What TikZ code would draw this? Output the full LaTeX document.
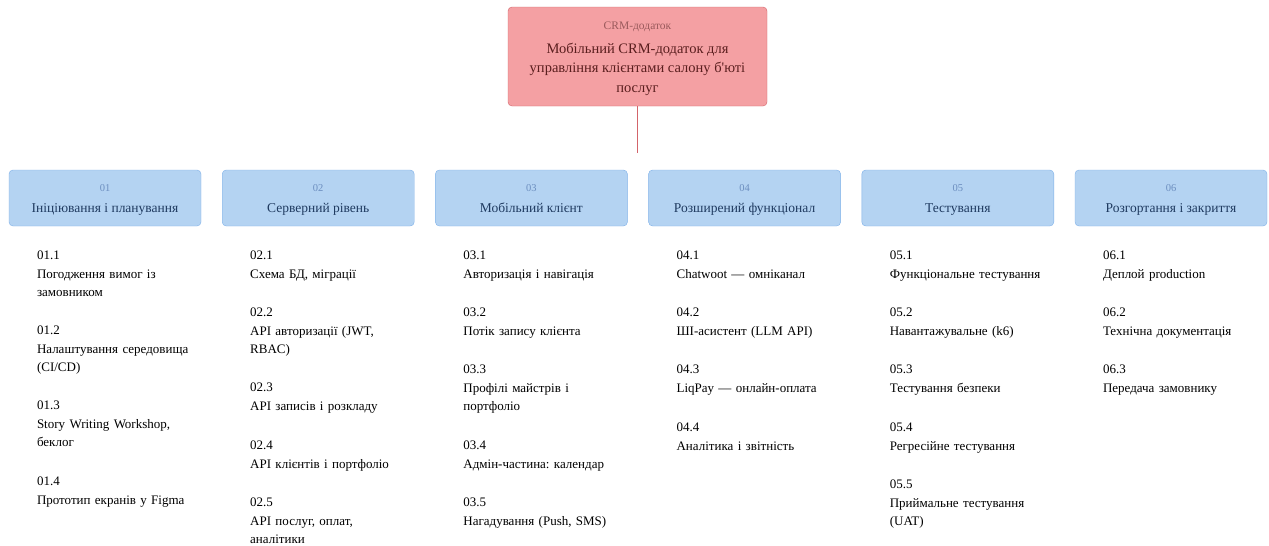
\documentclass[tikz,border=0pt]{standalone}
\usepackage{fontspec}
\setmainfont{Liberation Serif}
\usepackage{xcolor}
\usepackage{tikz}
\usetikzlibrary{positioning}
\definecolor{rootfill}{HTML}{F4A0A3}
\definecolor{rootdraw}{HTML}{D3646A}
\definecolor{roottext}{HTML}{5A1E1E}
\definecolor{rootsub}{HTML}{9A5A5C}
\definecolor{phasefill}{HTML}{B4D3F2}
\definecolor{phasedraw}{HTML}{7EB0E8}
\definecolor{phasetext}{HTML}{1F3A60}
\definecolor{phasenum}{HTML}{6C8EBF}
\newcommand{\itemfont}{\fontsize{13}{18}\selectfont\frenchspacing}
\tikzset{
  rootbox/.style={rectangle, rounded corners=4pt, draw=rootdraw, fill=rootfill, minimum width=259pt, minimum height=99pt, align=center, text=roottext, font=\fontsize{14.5}{19.5}\selectfont\frenchspacing},
  phasebox/.style={rectangle, rounded corners=4pt, draw=phasedraw, fill=phasefill, minimum width=192pt, minimum height=56pt, outer sep=0pt, align=center, text=phasetext, font=\fontsize{13.5}{19}\selectfont},
  wbsitem/.style={rectangle, text width=160pt, inner sep=0pt, align=left, font=\itemfont},
  link/.style={draw=rootdraw, line width=1.5pt},
}
\newcommand{\rootsub}[1]{{\color{rootsub}\fontsize{11.5}{15}\selectfont\rule{0pt}{12pt}#1}}
\newcommand{\phnum}[1]{{\color{phasenum}\fontsize{10.5}{14}\selectfont\rule{0pt}{14pt}#1}}

\begin{document}
\begin{tikzpicture}[x=1pt, y=1pt, node distance=19.7pt]
\useasboundingbox (0,0) rectangle (1269,-546);
\node[rootbox] (root) at (637.5,-56.5) {\rootsub{CRM-додаток}\\[4pt]Мобільний CRM-додаток для\\управління клієнтами салону б\textquotesingle юті\\послуг};
\coordinate (rootend) at (637.5,-153);
\draw[link] (root) -- (rootend);

% phases
\node[phasebox] (ph1) at (105,-198) {\phnum{01}\\[2pt]Ініціювання і планування\strut};
\node[phasebox, right=21.2pt of ph1] (ph2) {\phnum{02}\\[2pt]Серверний рівень\strut};
\node[phasebox, right=21.2pt of ph2] (ph3) {\phnum{03}\\[2pt]Мобільний клієнт\strut};
\node[phasebox, right=21.2pt of ph3] (ph4) {\phnum{04}\\[2pt]Розширений функціонал\strut};
\node[phasebox, right=21.2pt of ph4] (ph5) {\phnum{05}\\[2pt]Тестування\strut};
\node[phasebox, right=21.2pt of ph5] (ph6) {\phnum{06}\\[2pt]Розгортання і закриття\strut};

% 01
\node[wbsitem, below=20.9pt of ph1, xshift=12pt] (i11) {\strut 01.1\\[1pt]Погодження вимог із\\замовником\strut};
\node[wbsitem, below=of i11] (i12) {\strut 01.2\\[1pt]Налаштування середовища\\(CI/CD)\strut};
\node[wbsitem, below=of i12] (i13) {\strut 01.3\\[1pt]Story Writing Workshop,\\беклог\strut};
\node[wbsitem, below=of i13] (i14) {\strut 01.4\\[1pt]Прототип екранів у Figma\strut};

% 02
\node[wbsitem, below=20.9pt of ph2, xshift=12pt] (i21) {\strut 02.1\\[1pt]Схема БД, міграції\strut};
\node[wbsitem, below=of i21] (i22) {\strut 02.2\\[1pt]API авторизації (JWT,\\RBAC)\strut};
\node[wbsitem, below=of i22] (i23) {\strut 02.3\\[1pt]API записів і розкладу\strut};
\node[wbsitem, below=of i23] (i24) {\strut 02.4\\[1pt]API клієнтів і портфоліо\strut};
\node[wbsitem, below=of i24] (i25) {\strut 02.5\\[1pt]API послуг, оплат,\\аналітики\strut};

% 03
\node[wbsitem, below=20.9pt of ph3, xshift=12pt] (i31) {\strut 03.1\\[1pt]Авторизація і навігація\strut};
\node[wbsitem, below=of i31] (i32) {\strut 03.2\\[1pt]Потік запису клієнта\strut};
\node[wbsitem, below=of i32] (i33) {\strut 03.3\\[1pt]Профілі майстрів і\\портфоліо\strut};
\node[wbsitem, below=of i33] (i34) {\strut 03.4\\[1pt]Адмін-частина: календар\strut};
\node[wbsitem, below=of i34] (i35) {\strut 03.5\\[1pt]Нагадування (Push, SMS)\strut};

% 04
\node[wbsitem, below=20.9pt of ph4, xshift=12pt] (i41) {\strut 04.1\\[1pt]Chatwoot — омніканал\strut};
\node[wbsitem, below=of i41] (i42) {\strut 04.2\\[1pt]ШІ-асистент (LLM API)\strut};
\node[wbsitem, below=of i42] (i43) {\strut 04.3\\[1pt]LiqPay — онлайн-оплата\strut};
\node[wbsitem, below=of i43] (i44) {\strut 04.4\\[1pt]Аналітика і звітність\strut};

% 05
\node[wbsitem, below=20.9pt of ph5, xshift=12pt] (i51) {\strut 05.1\\[1pt]Функціональне тестування\strut};
\node[wbsitem, below=of i51] (i52) {\strut 05.2\\[1pt]Навантажувальне (k6)\strut};
\node[wbsitem, below=of i52] (i53) {\strut 05.3\\[1pt]Тестування безпеки\strut};
\node[wbsitem, below=of i53] (i54) {\strut 05.4\\[1pt]Регресійне тестування\strut};
\node[wbsitem, below=of i54] (i55) {\strut 05.5\\[1pt]Приймальне тестування\\(UAT)\strut};

% 06
\node[wbsitem, below=20.9pt of ph6, xshift=12pt] (i61) {\strut 06.1\\[1pt]Деплой production\strut};
\node[wbsitem, below=of i61] (i62) {\strut 06.2\\[1pt]Технічна документація\strut};
\node[wbsitem, below=of i62] (i63) {\strut 06.3\\[1pt]Передача замовнику\strut};
\end{tikzpicture}
\end{document}
